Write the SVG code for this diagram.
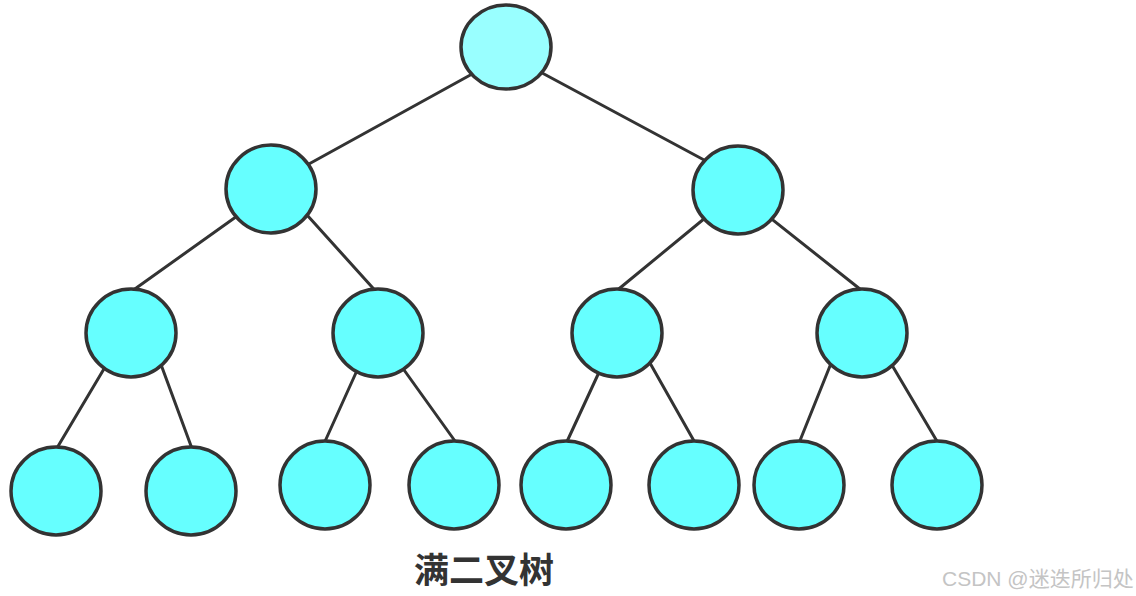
<svg xmlns="http://www.w3.org/2000/svg" width="1136" height="596" viewBox="0 0 1136 596">
<style>
.node{fill:#66FFFF;stroke:#333;stroke-width:3.5}
.root{fill:#99FFFF}
.edge{stroke:#333;stroke-width:3;fill:none;stroke-linecap:round}
.title{font-family:"Noto Sans CJK SC","Liberation Sans",sans-serif;font-weight:bold;font-size:35px;fill:#333}
.wm{font-family:"Liberation Sans","Noto Sans CJK SC",sans-serif;font-size:21px;fill:#c4c4c4}
</style>
<rect width="1136" height="596" fill="#fff"/>
<g id="connectors">
<line class="edge" x1="483" y1="68" x2="298" y2="170"/>
<line class="edge" x1="531" y1="67" x2="719" y2="168"/>
<line class="edge" x1="247" y1="209" x2="125" y2="296"/>
<line class="edge" x1="298" y1="205" x2="381" y2="297"/>
<line class="edge" x1="716" y1="209" x2="609" y2="297"/>
<line class="edge" x1="759" y1="209" x2="870" y2="297"/>
<line class="edge" x1="114" y1="352" x2="54" y2="453"/>
<line class="edge" x1="156" y1="351" x2="194" y2="454"/>
<line class="edge" x1="364" y1="355" x2="322" y2="448"/>
<line class="edge" x1="394" y1="356" x2="460" y2="448"/>
<line class="edge" x1="607" y1="355" x2="564" y2="448"/>
<line class="edge" x1="646" y1="356" x2="698" y2="448"/>
<line class="edge" x1="836" y1="351" x2="797" y2="448"/>
<line class="edge" x1="886" y1="355" x2="941" y2="448"/>
</g>
<g id="n1"><ellipse class="node root" cx="506" cy="47" rx="45" ry="42"/></g>
<g id="n2"><ellipse class="node" cx="271" cy="189" rx="45" ry="44"/></g>
<g id="n3"><ellipse class="node" cx="738" cy="190" rx="45" ry="44"/></g>
<g id="n4"><ellipse class="node" cx="131" cy="333" rx="45" ry="44"/></g>
<g id="n5"><ellipse class="node" cx="378" cy="333" rx="45" ry="44"/></g>
<g id="n6"><ellipse class="node" cx="617" cy="333" rx="45" ry="44"/></g>
<g id="n7"><ellipse class="node" cx="862" cy="333" rx="45" ry="44"/></g>
<g id="n8"><ellipse class="node" cx="56" cy="491" rx="45" ry="44"/></g>
<g id="n9"><ellipse class="node" cx="191" cy="491" rx="45" ry="44"/></g>
<g id="n10"><ellipse class="node" cx="325" cy="485" rx="45" ry="44"/></g>
<g id="n11"><ellipse class="node" cx="454" cy="485" rx="45" ry="44"/></g>
<g id="n12"><ellipse class="node" cx="566" cy="485" rx="45" ry="44"/></g>
<g id="n13"><ellipse class="node" cx="694" cy="485" rx="45" ry="44"/></g>
<g id="n14"><ellipse class="node" cx="799" cy="485" rx="45" ry="44"/></g>
<g id="n15"><ellipse class="node" cx="937" cy="485" rx="45" ry="44"/></g>
<text class="title" x="484" y="583" text-anchor="middle">满二叉树</text>
<text class="wm" x="942" y="586">CSDN @迷迭所归处</text>
</svg>
